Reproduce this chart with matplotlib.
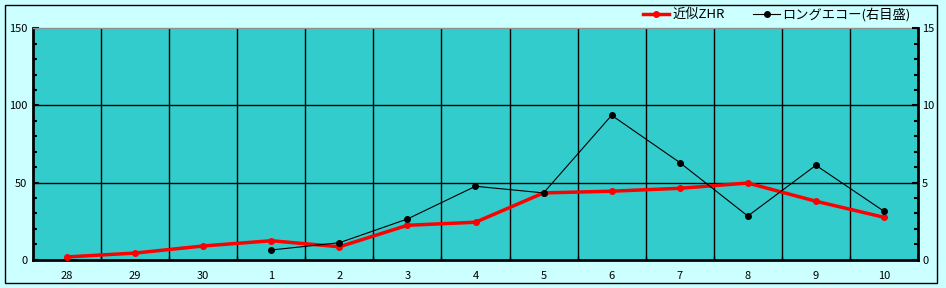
import matplotlib.pyplot as plt
from matplotlib.patches import Rectangle
from matplotlib.ticker import MultipleLocator, FixedLocator

plt.rcParams['font.family'] = ['Noto Sans CJK JP', 'DejaVu Sans']

# data
days = ['28', '29', '30', '1', '2', '3', '4', '5', '6', '7', '8', '9', '10']
zhr = [1.8, 4.3, 8.9, 12.3, 8.4, 22.3, 24.3, 43.3, 44.4, 46.3, 49.7, 37.9, 27.5]
echo_days = ['1', '2', '3', '4', '5', '6', '7', '8', '9', '10']
echo = [0.63, 1.1, 2.64, 4.76, 4.33, 9.36, 6.3, 2.83, 6.12, 3.14]

fig = plt.figure(figsize=(9.46, 2.88), dpi=100, facecolor='#CCFFFF')
fig.patches.append(Rectangle((5 / 946, 5 / 288), 932 / 946, 278 / 288,
                             transform=fig.transFigure, fill=False,
                             edgecolor='black', linewidth=1))

ax = fig.add_axes([33 / 946, 1 - 259.7 / 288, 885 / 946, 231.4 / 288])
ax.set_facecolor('#33CCCC')
x = list(range(len(days)))
xe = [days.index(d) for d in echo_days]

ax.set_xlim(-0.5, len(days) - 0.5)
ax.set_ylim(0, 150)
ax.set_xticks(x)
ax.set_xticklabels(days, fontsize=8)
ax.xaxis.set_minor_locator(FixedLocator([i + 0.5 for i in range(len(days) - 1)]))
ax.tick_params(axis='x', which='major', length=0, pad=8)
ax.tick_params(axis='x', which='minor', length=3, direction='in', width=1)
ax.yaxis.set_major_locator(MultipleLocator(50))
ax.yaxis.set_minor_locator(MultipleLocator(10))
ax.tick_params(axis='y', which='major', direction='in', length=4, width=1.5, labelsize=8, pad=4)
ax.tick_params(axis='y', which='minor', direction='in', length=3, width=1.5)

# grid
for v in [50, 100]:
    ax.axhline(v, color='black', lw=1, zorder=1)
for i in range(len(days) - 1):
    ax.axvline(i + 0.5, color='black', lw=1, zorder=1)

for side in ['left', 'bottom']:
    ax.spines[side].set_linewidth(2)
ax.spines['top'].set_color('#909090')
ax.spines['top'].set_linewidth(1)
ax.spines['right'].set_visible(False)

l1, = ax.plot(x, zhr, color='red', lw=2.5, marker='o', ms=4, zorder=4, label='近似ZHR')

ax2 = ax.twinx()
ax2.set_ylim(0, 15)
ax2.yaxis.set_major_locator(MultipleLocator(5))
ax2.yaxis.set_minor_locator(MultipleLocator(1))
ax2.tick_params(axis='y', which='major', direction='in', length=4, width=1.5, labelsize=8, pad=3)
ax2.tick_params(axis='y', which='minor', direction='in', length=3, width=1.5)
ax2.spines['right'].set_linewidth(2)
ax2.spines['top'].set_visible(False)
ax2.spines['left'].set_visible(False)
ax2.spines['bottom'].set_visible(False)
l2, = ax2.plot(xe, echo, color='black', lw=0.8, marker='o', ms=4, zorder=3,
               label='ロングエコー(右目盛)')

fig.legend(handles=[l1, l2], loc='upper right', bbox_to_anchor=(916 / 946, 1 - 2 / 288),
           ncol=2, frameon=False, fontsize=9.5, handlelength=2.0, columnspacing=2.2,
           handletextpad=0.2, borderaxespad=0)

fig.savefig('out.png', dpi=100, facecolor=fig.get_facecolor())
